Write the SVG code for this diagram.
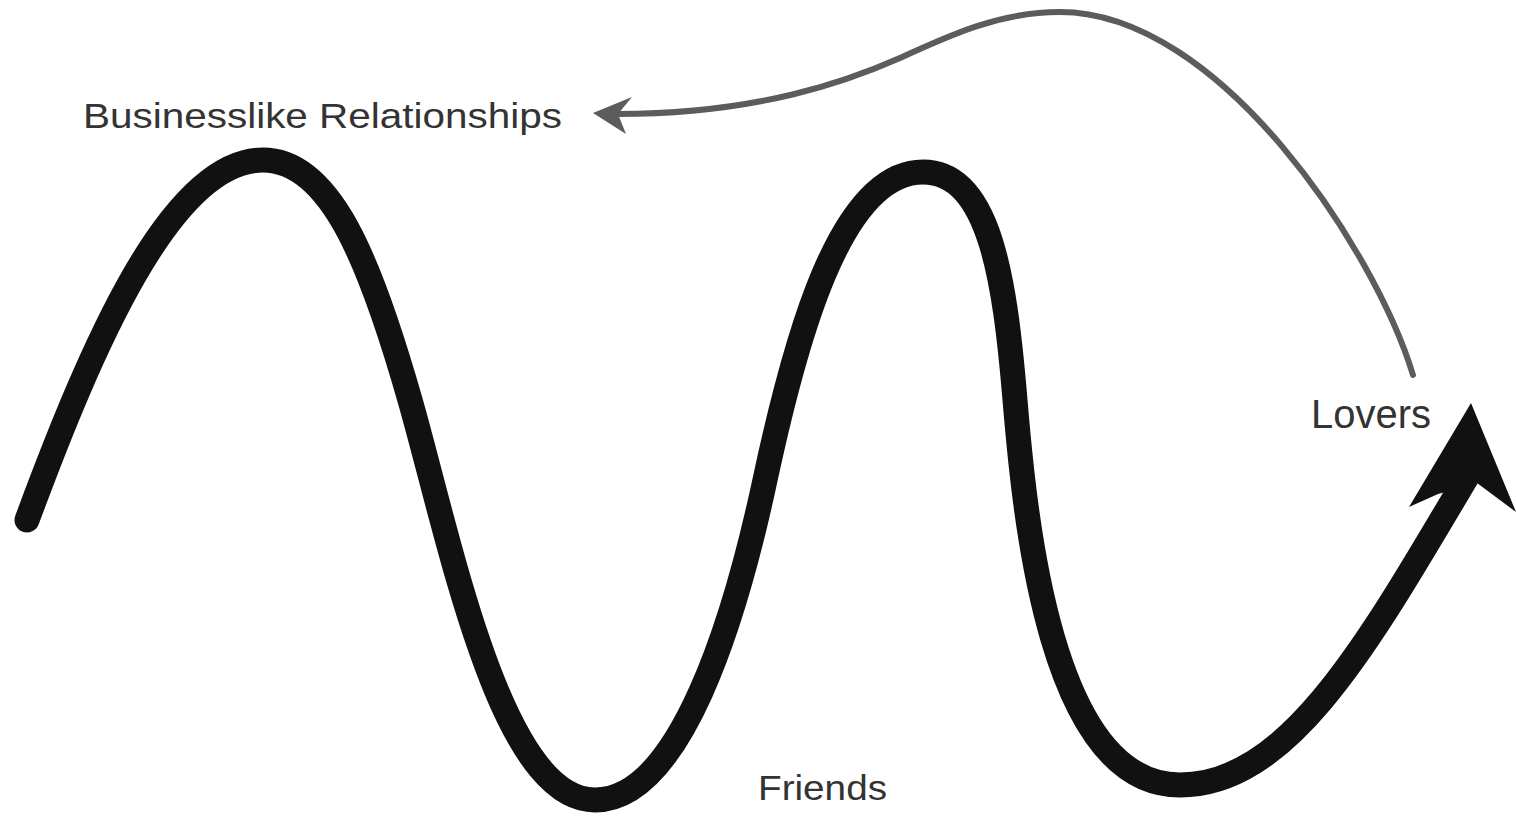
<svg xmlns="http://www.w3.org/2000/svg" width="1516" height="817" viewBox="0 0 1516 817">
<style>
.lbl{font-family:"Liberation Sans",Arial,sans-serif;font-size:35px;fill:#333}
.wave{fill:none;stroke:#111;stroke-width:25;stroke-linecap:round;stroke-linejoin:round}
.back{fill:none;stroke:#5c5c5c;stroke-width:6;stroke-linecap:round}
</style>
<rect width="1516" height="817" fill="#fff"/>
<g id="connectors">
<path class="wave" d="M27,520 C90,350 170,160 263,160 C330,160 370,260 410,400 C450,540 500,800 595,800 C680,800 735,620 765,480 C795,340 840,172 923,172 C990,172 1005,280 1015,400 C1025,520 1050,785 1180,785 C1290,785 1370,640 1468,475"/>
<polygon fill="#111" points="1471,403 1516,512 1477,483 1438,494 1409,507"/>
<path class="back" d="M1413,375 C1375,250 1220,12 1060,12 C1000,12 950,35 900,58 C850,80 760,114 618,114"/>
<polygon fill="#5c5c5c" points="593,113 632,97 618,114 626,134"/>
</g>
<g id="businesslike"><text class="lbl" x="83" y="128" textLength="479" lengthAdjust="spacingAndGlyphs">Businesslike Relationships</text></g>
<g id="lovers"><text class="lbl" x="1311" y="428" style="font-size:40px">Lovers</text></g>
<g id="friends"><text class="lbl" x="758" y="800" textLength="129" lengthAdjust="spacingAndGlyphs">Friends</text></g>
</svg>
